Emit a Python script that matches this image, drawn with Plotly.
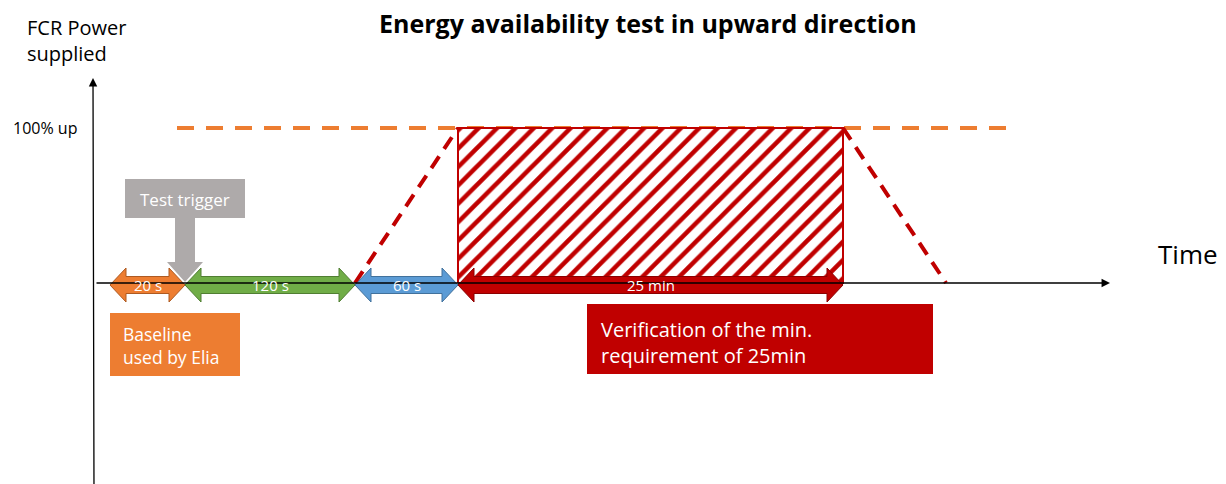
import plotly.graph_objects as go

# ---------------- data (schematic diagram units) ----------------
phase_labels = ["20 s", "120 s", "60 s", "25 min"]
phase_edges = [110, 185, 355, 458, 843]          # schematic time positions of phase boundaries
power_levels = {"baseline": 0, "full": 100}       # % of FCR power
reference_100_x = [177, 1015]                     # extent of 100% reference line
ramp_up_x = [355, 458]
ramp_up_y = [0, 100]
ramp_down_x = [843, 946]
ramp_down_y = [100, 0]
test_trigger_x = 185
title_text = "Energy availability test in upward direction"

# ---------------- styles ----------------
W, H = 1226, 484
Y0_PX, Y100_PX = 283, 128  # pixel rows of 0% and 100%
FONT = "Open Sans"
phase_fill = ["#ED7D31", "#70AD47", "#5B9BD5", "#C00000"]
phase_edge = ["#AE5A21", "#507E32", "#41719C", "#8B0000"]


def yp(py):
    """pixel row -> power % (for layout helpers)"""
    return (Y0_PX - py) / (Y0_PX - Y100_PX) * 100


def dy(px):
    return px / (Y0_PX - Y100_PX) * 100


fig = go.Figure()

# 100% reference dashed line
fig.add_trace(go.Scatter(x=reference_100_x, y=[power_levels["full"]] * 2, mode="lines",
                         line=dict(color="#ED7D31", width=4, dash="17px,12px"), hoverinfo="skip"))

# hatched verification area
x0, x1 = phase_edges[3], phase_edges[4]
fig.add_trace(go.Scatter(x=[x0, x1, x1, x0, x0],
                         y=[power_levels["baseline"], power_levels["baseline"], power_levels["full"],
                            power_levels["full"], power_levels["baseline"]],
                         mode="lines", fill="toself", fillcolor="white",
                         fillpattern=dict(shape="/", fgcolor="#C00000", fgopacity=1, bgcolor="white",
                                          size=13, solidity=0.35),
                         line=dict(color="#C00000", width=2), hoverinfo="skip"))

# ramps
for rx, ry in [(ramp_up_x, ramp_up_y), (ramp_down_x, ramp_down_y)]:
    fig.add_trace(go.Scatter(x=rx, y=ry, mode="lines",
                             line=dict(color="#C00000", width=4, dash="14px,9px"), hoverinfo="skip"))

# axes (lines with arrows)
fig.add_annotation(x=1110, y=power_levels["baseline"], ax=95, ay=power_levels["baseline"],
                   xref="x", yref="y", axref="x", ayref="y", text="", showarrow=True,
                   arrowhead=2, arrowsize=1.3, arrowwidth=1.3, arrowcolor="#000000")
fig.add_annotation(x=93, y=yp(78), ax=94, ay=yp(490),
                   xref="x", yref="y", axref="x", ayref="y", text="", showarrow=True,
                   arrowhead=2, arrowsize=1.3, arrowwidth=1.3, arrowcolor="#000000")

# double arrows for phases
c = yp(285)
hh, bh, L = dy(17), dy(8.5), 16
for i, lab in enumerate(phase_labels):
    a, b = phase_edges[i], phase_edges[i + 1]
    xs = [a, a + L, a + L, b - L, b - L, b, b - L, b - L, a + L, a + L, a]
    ys = [c, c + hh, c + bh, c + bh, c + hh, c, c - hh, c - bh, c - bh, c - hh, c]
    fig.add_trace(go.Scatter(x=xs, y=ys, mode="lines", fill="toself", fillcolor=phase_fill[i],
                             line=dict(color=phase_edge[i], width=1), hoverinfo="skip"))
    fig.add_annotation(x=(a + b) / 2, y=c, text=lab, showarrow=False, xref="x", yref="y",
                       font=dict(family=FONT, size=15, color="white"))

# test trigger callout
tx = test_trigger_x
box_l, box_r, box_t, box_b = 125, 245, yp(179), yp(218)
stem_h, head_h, tip = 10, 18, yp(282)
head_y = yp(262)
xs = [box_l, box_r, box_r, tx + stem_h, tx + stem_h, tx + head_h, tx, tx - head_h, tx - stem_h, tx - stem_h, box_l, box_l]
ys = [box_t, box_t, box_b, box_b, head_y, head_y, tip, head_y, head_y, box_b, box_b, box_t]
fig.add_trace(go.Scatter(x=xs, y=ys, mode="lines", fill="toself", fillcolor="#AEAAAA",
                         line=dict(color="#AEAAAA", width=0), hoverinfo="skip"))
fig.add_annotation(x=(box_l + box_r) / 2, y=yp(199), text="Test trigger", showarrow=False,
                   font=dict(family=FONT, size=17, color="white"))

# boxes
def box(xl, xr, yt, yb, color):
    fig.add_trace(go.Scatter(x=[xl, xr, xr, xl, xl], y=[yt, yt, yb, yb, yt], mode="lines",
                             fill="toself", fillcolor=color, line=dict(color=color, width=0),
                             hoverinfo="skip"))

box(110, 240, yp(313), yp(376), "#ED7D31")
fig.add_annotation(x=121, y=yp(345), text="Baseline<br>used by Elia", showarrow=False, xanchor="left",
                   align="left", font=dict(family=FONT, size=17.5, color="white"))
box(587, 933, yp(304), yp(374), "#C00000")
fig.add_annotation(x=599, y=yp(342), text="Verification of the min.<br>requirement of 25min", showarrow=False,
                   xanchor="left", align="left", font=dict(family=FONT, size=20, color="white"))

# text labels
fig.add_annotation(x=25, y=yp(40), text="FCR Power<br>supplied", showarrow=False, xanchor="left",
                   align="left", font=dict(family=FONT, size=20, color="#000000"))
fig.add_annotation(x=11, y=yp(128), text="100% up", showarrow=False, xanchor="left",
                   font=dict(family=FONT, size=16, color="#000000"))
fig.add_annotation(x=1156, y=yp(254), text="Time", showarrow=False, xanchor="left",
                   font=dict(family=FONT, size=26, color="#000000"))
fig.add_annotation(x=648, y=yp(23), text="<b>" + title_text + "</b>", showarrow=False,
                   borderpad=0, font=dict(family=FONT, size=25, color="#000000"))

fig.update_layout(width=W, height=H, margin=dict(l=0, r=0, t=0, b=0),
                  paper_bgcolor="white", plot_bgcolor="white", showlegend=False,
                  xaxis=dict(range=[0, W], visible=False, fixedrange=True),
                  yaxis=dict(range=[yp(H), yp(0)], visible=False, fixedrange=True))
# remove the default page margin so the figure fills the window exactly
fig.write_html("out.html", config={"displayModeBar": False},
               post_script="document.body.style.margin='0';")
